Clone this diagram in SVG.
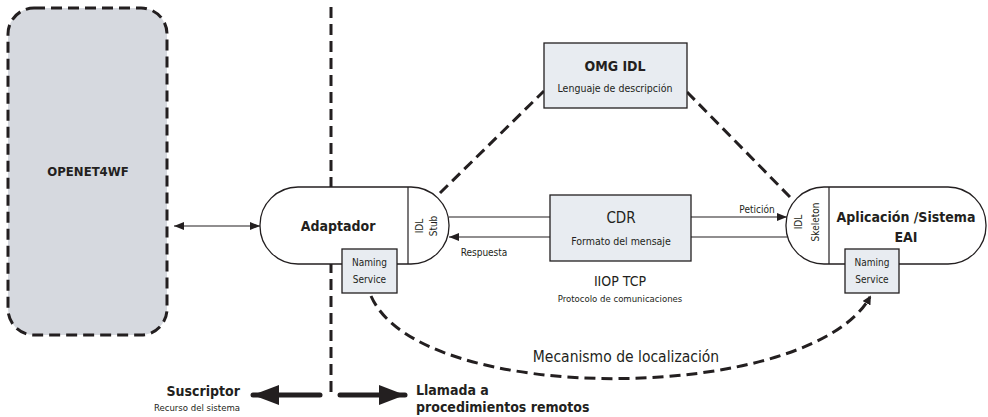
<svg xmlns="http://www.w3.org/2000/svg" width="988" height="417" viewBox="0 0 988 417">
<defs>
<style>
text{font-family:"DejaVu Sans Condensed","DejaVu Sans",sans-serif;fill:#231f20}
.b{font-weight:bold}
.box{fill:#e8ecf1;stroke:#231f20;stroke-width:1.3}
.rnd{fill:#fff;stroke:#231f20;stroke-width:1.3}
.dash{fill:none;stroke:#231f20;stroke-width:3;stroke-dasharray:11 6}
.thin{fill:none;stroke:#231f20;stroke-width:1.2}
</style>
<marker id="ah" viewBox="0 0 10 10" refX="10" refY="5" markerWidth="10" markerHeight="10" markerUnits="userSpaceOnUse" orient="auto-start-reverse"><path d="M0,1 L10,5 L0,9 Z" fill="#231f20"/></marker>
<marker id="ahd" viewBox="0 0 10 10" refX="8" refY="5" markerWidth="9" markerHeight="9" markerUnits="userSpaceOnUse" orient="auto"><path d="M0,0 L10,5 L0,10 Z" fill="#231f20"/></marker>
<marker id="big" viewBox="0 0 10 10" refX="10" refY="5" markerWidth="26" markerHeight="20" markerUnits="userSpaceOnUse" preserveAspectRatio="none" orient="auto"><path d="M0,0 L10,5 L0,10 Z" fill="#231f20"/></marker>
</defs>

<g id="openet">
<rect x="8" y="8" width="159" height="327" rx="26" fill="#d6d9df" stroke="#231f20" stroke-width="3" stroke-dasharray="11 6"/>
<text x="88" y="176" class="b" font-size="13" text-anchor="middle">OPENET4WF</text>
</g>

<g id="divider">
<line x1="331" y1="7" x2="331" y2="398" class="dash" stroke-width="2.5" stroke-dasharray="12 5"/>
</g>

<g id="connectors">
<line x1="440" y1="193" x2="544" y2="91" class="dash"/>
<line x1="687" y1="92" x2="791" y2="198" class="dash"/>
<path d="M371,296 C420,408 810,404 870,297" class="dash" marker-end="url(#ahd)"/>
<line x1="174" y1="226" x2="260" y2="226" class="thin" marker-start="url(#ah)" marker-end="url(#ah)"/>
<line x1="449" y1="217" x2="550" y2="217" class="thin"/>
<line x1="691" y1="217" x2="787" y2="217" class="thin" marker-end="url(#ah)"/>
<line x1="550" y1="237" x2="449" y2="237" class="thin" marker-end="url(#ah)"/>
<line x1="787" y1="237" x2="691" y2="237" class="thin"/>
<line x1="320" y1="395" x2="253" y2="395" stroke="#231f20" stroke-width="5" stroke-linecap="round" marker-end="url(#big)"/>
<line x1="340" y1="395" x2="405" y2="395" stroke="#231f20" stroke-width="5" stroke-linecap="round" marker-end="url(#big)"/>
<text x="484" y="256" font-size="10" text-anchor="middle">Respuesta</text>
<text x="757" y="213" font-size="10" text-anchor="middle">Petición</text>
<text x="626" y="362" font-size="15.5" text-anchor="middle">Mecanismo de localización</text>
</g>

<g id="omgidl">
<rect x="544" y="43" width="143" height="65" class="box"/>
<text x="615" y="71" class="b" font-size="14" text-anchor="middle">OMG IDL</text>
<text x="615" y="92" font-size="10.5" text-anchor="middle">Lenguaje de descripción</text>
</g>

<g id="cdr">
<rect x="550" y="195" width="141" height="66" class="box"/>
<text x="621" y="223" font-size="15" text-anchor="middle">CDR</text>
<text x="621" y="245" font-size="10.5" text-anchor="middle">Formato del mensaje</text>
</g>

<g id="iiop">
<text x="620" y="286" font-size="14" text-anchor="middle">IIOP TCP</text>
<text x="620" y="302" font-size="9.5" text-anchor="middle">Protocolo de comunicaciones</text>
</g>

<g id="adaptador">
<rect x="260" y="187" width="189" height="77" rx="38" class="rnd"/>
<line x1="408" y1="187" x2="408" y2="264" class="thin"/>
<text x="338" y="231" class="b" font-size="14" text-anchor="middle">Adaptador</text>
<text transform="translate(423,226) rotate(-90)" font-size="10" text-anchor="middle">IDL</text>
<text transform="translate(437,226) rotate(-90)" font-size="10" text-anchor="middle">Stub</text>
</g>

<g id="naming1">
<rect x="342" y="249" width="55" height="44" class="box"/>
<text x="369.5" y="266" font-size="10" text-anchor="middle">Naming</text>
<text x="369.5" y="283" font-size="10" text-anchor="middle">Service</text>
</g>

<g id="aplicacion">
<rect x="786" y="187" width="200" height="77" rx="38" class="rnd"/>
<line x1="829" y1="187" x2="829" y2="264" class="thin"/>
<text x="906" y="222" class="b" font-size="14" text-anchor="middle">Aplicación /Sistema</text>
<text x="906" y="242" class="b" font-size="14" text-anchor="middle">EAI</text>
<text transform="translate(802,222) rotate(-90)" font-size="10" text-anchor="middle">IDL</text>
<text transform="translate(819,222) rotate(-90)" font-size="10" text-anchor="middle">Skeleton</text>
</g>

<g id="naming2">
<rect x="845" y="249" width="54" height="44" class="box"/>
<text x="872" y="266" font-size="10" text-anchor="middle">Naming</text>
<text x="872" y="283" font-size="10" text-anchor="middle">Service</text>
</g>

<g id="suscriptor">
<text x="240" y="396" class="b" font-size="14" text-anchor="end">Suscriptor</text>
<text x="240" y="411" font-size="9.5" text-anchor="end">Recurso del sistema</text>
</g>

<g id="llamada">
<text x="416" y="395" class="b" font-size="14">Llamada a</text>
<text x="416" y="412" class="b" font-size="14">procedimientos remotos</text>
</g>
</svg>
